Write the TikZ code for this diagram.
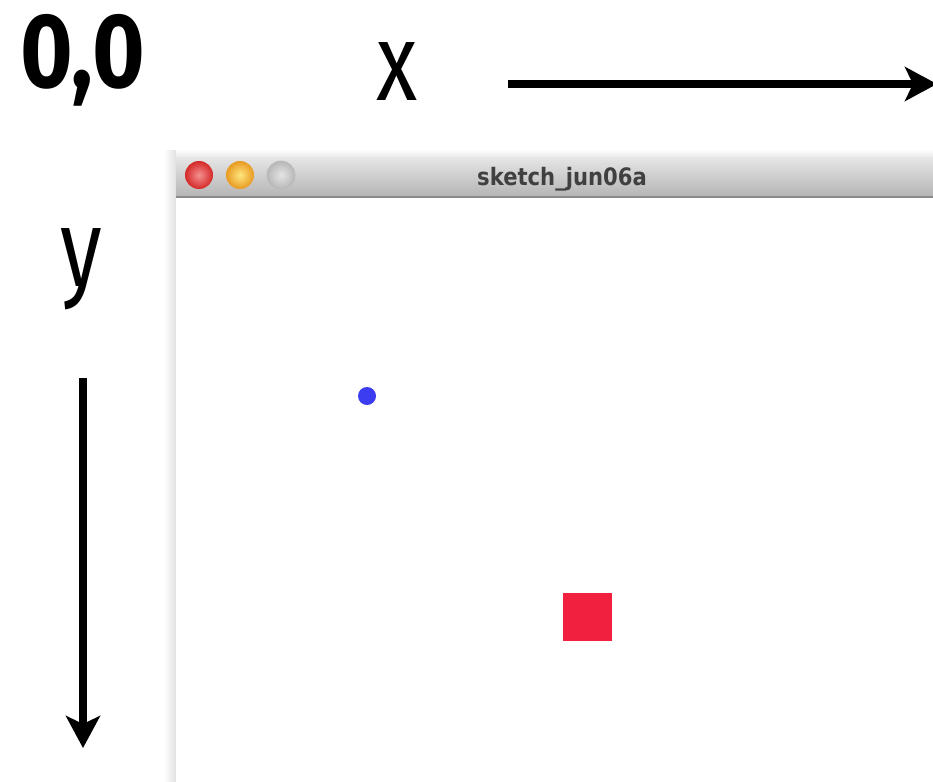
\documentclass[tikz,border=0pt]{standalone}
\usepackage{fontspec}
\setmainfont{Fira Sans}
\newfontfamily\titlefont{DejaVu Sans}
\usetikzlibrary{arrows.meta}
\definecolor{dotblue}{HTML}{3C3CF0}
\definecolor{sqred}{HTML}{F0203E}
\definecolor{bartop}{HTML}{E6E6E6}
\definecolor{barbot}{HTML}{B4B4B4}
\definecolor{barline}{HTML}{8A8A8A}
\definecolor{titlegray}{HTML}{404040}
\definecolor{redin}{HTML}{F59090}
\definecolor{redout}{HTML}{D42828}
\definecolor{yelin}{HTML}{FFE680}
\definecolor{yelout}{HTML}{E89A20}
\definecolor{grayin}{HTML}{E4E4E4}
\definecolor{grayout}{HTML}{B8B8B8}
\tikzset{
  axislabel/.style={inner sep=0pt, anchor=base west, font=\fontsize{110}{110}\selectfont},
  axisarrow/.style={line width=7.5pt, -{Stealth[length=32pt, width=34pt, inset=8pt]}},
  winbtn/.style={circle, minimum size=28pt, inner sep=0pt},
}
\begin{document}
\begin{tikzpicture}[x=1pt, y=-1pt]
  \useasboundingbox (0,0) rectangle (933,781);
  % window shadow
  \shade[left color=white, right color=black!12] (164,150) rectangle (176,790);
  \shade[top color=white, bottom color=black!8] (176,149) rectangle (940,157);
  % window body
  \fill[white] (176,197) rectangle (940,790);
  % title bar
  \shade[top color=bartop, bottom color=barbot] (176,157) rectangle (940,197);
  \draw[barline, line width=1.5pt] (176,197) -- (940,197);
  % buttons
  \node[winbtn, inner color=redin, outer color=redout] (bred) at (199,175) {};
  \node[winbtn, inner color=yelin, outer color=yelout] (byel) at (240,175) {};
  \node[winbtn, inner color=grayin, outer color=grayout, draw=black!28, line width=0.6pt] (bgray) at (281,175) {};
  \node[inner sep=0pt, anchor=base, text=titlegray, font=\titlefont\bfseries\fontsize{24}{24}\selectfont] (title) at (562,185) {\scalebox{0.88}[1]{sketch\_jun06a}};
  % content
  \node[circle, fill=dotblue, minimum size=18pt, inner sep=0pt] (dot) at (367,396) {};
  \node[rectangle, fill=sqred, minimum width=49pt, minimum height=48pt, inner sep=0pt, anchor=north west] (sq) at (563,593) {};
  % labels
  \node[inner sep=0pt, anchor=base west, font=\bfseries\fontsize{106}{106}\selectfont] (origin) at (20,88) {\scalebox{0.85}[1]{0,0}};
  \node[axislabel] (xlab) at (376,100) {\scalebox{0.77}[1]{x}};
  \node[axislabel] (ylab) at (60,286) {\scalebox{0.77}[1]{y}};
  % axes
  \coordinate (xs) at (508,84);
  \coordinate (xe) at (937,84);
  \coordinate (ys) at (83,378);
  \coordinate (ye) at (83,748);
  \draw[axisarrow] (xs) -- (xe);
  \draw[axisarrow] (ys) -- (ye);
\end{tikzpicture}
\end{document}
